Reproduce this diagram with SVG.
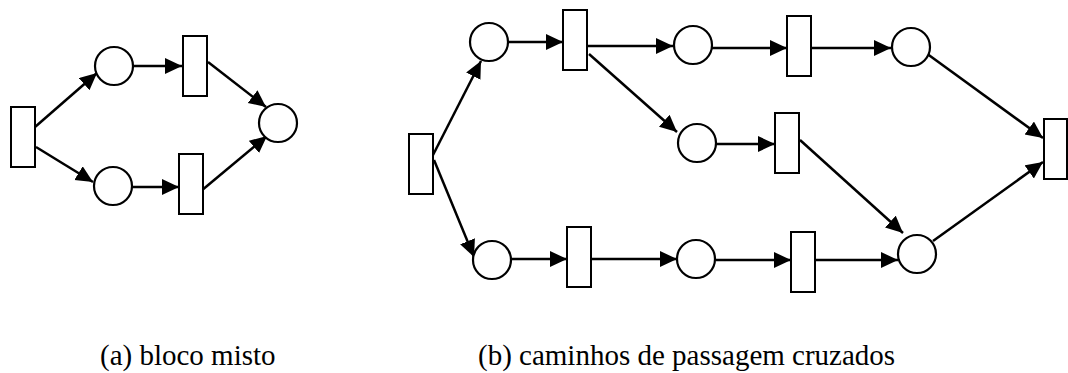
<svg xmlns="http://www.w3.org/2000/svg" width="1068" height="373" viewBox="0 0 1068 373">
<style>
.p{fill:#fff;stroke:#000;stroke-width:2.2}
.t{fill:#fff;stroke:#000;stroke-width:2}
.e{stroke:#000;stroke-width:2.5;fill:none;marker-end:url(#ah)}
</style>
<defs>
<marker id="ah" markerUnits="userSpaceOnUse" markerWidth="18" markerHeight="17" refX="17" refY="8" orient="auto">
<path d="M0,0 L17,8 L0,16 z" fill="#000"/>
</marker>
</defs>
<rect width="1068" height="373" fill="#fff"/>
<g id="connectors">
<line class="e" x1="35" y1="127" x2="97" y2="73"/>
<line class="e" x1="36" y1="147" x2="93" y2="182"/>
<line class="e" x1="133" y1="66" x2="182" y2="66"/>
<line class="e" x1="208" y1="62" x2="266" y2="107"/>
<line class="e" x1="132" y1="187" x2="179" y2="187"/>
<line class="e" x1="201" y1="191" x2="267" y2="136"/>
<line class="e" x1="433" y1="155" x2="481" y2="61"/>
<line class="e" x1="434" y1="160" x2="474" y2="257"/>
<line class="e" x1="509" y1="42" x2="563" y2="42"/>
<line class="e" x1="588" y1="46" x2="673" y2="46"/>
<line class="e" x1="589" y1="54" x2="677" y2="132"/>
<line class="e" x1="712" y1="48" x2="787" y2="48"/>
<line class="e" x1="716" y1="144" x2="775" y2="144"/>
<line class="e" x1="812" y1="48" x2="891" y2="48"/>
<line class="e" x1="926" y1="53" x2="1043" y2="138"/>
<line class="e" x1="800" y1="140" x2="903" y2="233"/>
<line class="e" x1="933" y1="241" x2="1043" y2="162"/>
<line class="e" x1="512" y1="259" x2="567" y2="259"/>
<line class="e" x1="592" y1="259" x2="677" y2="259"/>
<line class="e" x1="716" y1="260" x2="791" y2="260"/>
<line class="e" x1="816" y1="260" x2="898" y2="260"/>
</g>
<g id="a_t1"><rect class="t" x="11" y="107" width="24" height="60"/></g>
<g id="a_p1"><circle class="p" cx="114" cy="66" r="19"/></g>
<g id="a_t2"><rect class="t" x="183" y="36" width="24" height="60"/></g>
<g id="a_p2"><circle class="p" cx="113" cy="186" r="19"/></g>
<g id="a_t3"><rect class="t" x="179" y="154" width="24" height="60"/></g>
<g id="a_p3"><circle class="p" cx="278" cy="123" r="19"/></g>
<g id="b_t1"><rect class="t" x="409" y="134" width="24" height="60"/></g>
<g id="b_p1"><circle class="p" cx="489" cy="42" r="19"/></g>
<g id="b_t2"><rect class="t" x="563" y="10" width="24" height="60"/></g>
<g id="b_p2"><circle class="p" cx="693" cy="45" r="19"/></g>
<g id="b_t3"><rect class="t" x="787" y="16" width="24" height="60"/></g>
<g id="b_p3"><circle class="p" cx="911" cy="47" r="19"/></g>
<g id="b_p4"><circle class="p" cx="697" cy="143" r="19"/></g>
<g id="b_t4"><rect class="t" x="775" y="113" width="24" height="60"/></g>
<g id="b_t5"><rect class="t" x="1044" y="119" width="23" height="60"/></g>
<g id="b_p5"><circle class="p" cx="492" cy="260" r="19"/></g>
<g id="b_t6"><rect class="t" x="567" y="227" width="24" height="60"/></g>
<g id="b_p6"><circle class="p" cx="696" cy="259" r="19"/></g>
<g id="b_t7"><rect class="t" x="791" y="232" width="24" height="60"/></g>
<g id="b_p7"><circle class="p" cx="917" cy="254" r="19"/></g>
<text x="100" y="365" font-family="Liberation Serif, DejaVu Serif, serif" font-size="29" fill="#000">(a) bloco misto</text>
<text x="478" y="365" font-family="Liberation Serif, DejaVu Serif, serif" font-size="29" fill="#000">(b) caminhos de passagem cruzados</text>
</svg>
